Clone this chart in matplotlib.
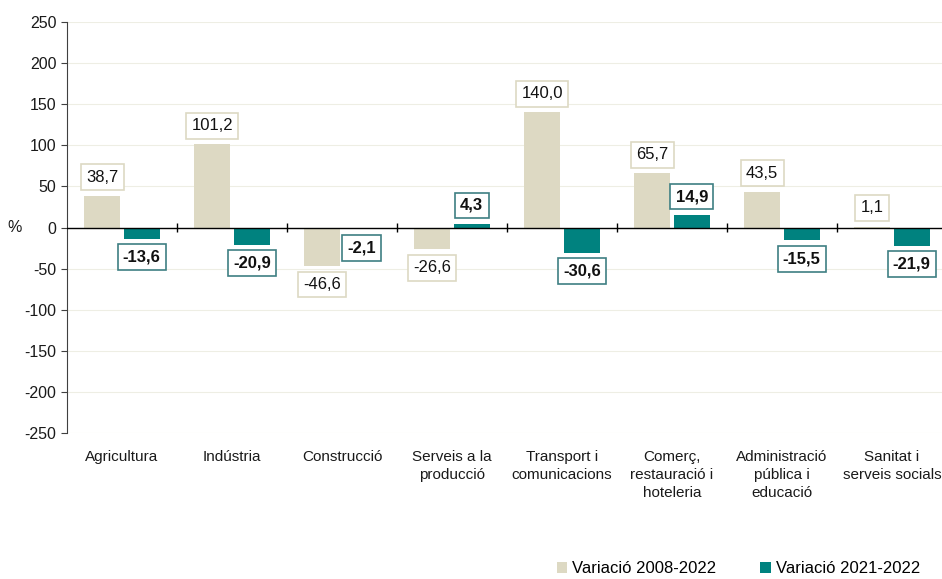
import matplotlib.pyplot as plt
import numpy as np

plt.rcParams['font.family'] = ['Liberation Sans', 'DejaVu Sans']
plt.rcParams['axes.unicode_minus'] = False

categories = ['Agricultura', 'Indústria', 'Construcció', 'Serveis a la\nproducció',
              'Transport i\ncomunicacions', 'Comerç,\nrestauració i\nhoteleria',
              'Administració\npública i\neducació', 'Sanitat i\nserveis socials']
var_2008_2022 = [38.7, 101.2, -46.6, -26.6, 140.0, 65.7, 43.5, 1.1]
var_2021_2022 = [-13.6, -20.9, -2.1, 4.3, -30.6, 14.9, -15.5, -21.9]
series_names = ['Variació 2008-2022', 'Variació 2021-2022']

beige = '#DDD9C3'
teal = '#00827F'

fig = plt.figure(figsize=(9.42, 5.79), dpi=100)
ax = fig.add_axes([67 / 942, 1 - 433 / 579, 880 / 942, 411 / 579])

x = np.arange(len(categories))
w = 0.33
off = 0.18
b1 = ax.bar(x - off, var_2008_2022, w, color=beige, label=series_names[0], zorder=3)
b2 = ax.bar(x + off, var_2021_2022, w, color=teal, label=series_names[1], zorder=3)


def fmt(v):
    return f'{v:.1f}'.replace('.', ',')


for xs, vals, ec, weight in [(x - off, var_2008_2022, beige, 'normal'),
                             (x + off, var_2021_2022, '#3E7F83', 'bold')]:
    for xi, v in zip(xs, vals):
        sign = 1 if v >= 0 else -1
        ax.annotate(fmt(v), (xi, v), xytext=(0, 8 * sign), textcoords='offset points',
                    ha='center', va='bottom' if v >= 0 else 'top',
                    fontsize=12, fontweight=weight, color='#111111', zorder=5,
                    bbox=dict(boxstyle='square,pad=0.32', fc='white', ec=ec, lw=1.2))

ax.set_ylim(-250, 250)
ax.set_xlim(-0.5, len(categories) - 0.5)
ax.set_yticks(np.arange(-250, 251, 50))
ax.set_xticks(x)
ax.set_xticklabels(categories, fontsize=11, color='#1a1a1a', linespacing=1.4)
ax.tick_params(axis='x', length=0, pad=12)
ax.tick_params(axis='y', length=4, labelsize=11.5, labelcolor='#1a1a1a', color='#404040')
ax.yaxis.grid(True, color='#EEEEE4', linestyle='-', lw=0.8, zorder=0)

for s in ['top', 'right', 'bottom']:
    ax.spines[s].set_visible(False)
ax.spines['left'].set_color('#404040')

ax.axhline(0, color='black', lw=1, zorder=4)
ax.vlines(np.arange(0.5, len(categories)), -5, 5, color='black', lw=1, zorder=4)

fig.text(15 / 942, 1 - 227 / 579, '%', fontsize=11.5, ha='center', va='center', color='#1a1a1a')

fig.legend(handles=[b1, b2], loc='center left', bbox_to_anchor=(0.575, 0.018),
           ncol=2, frameon=False, fontsize=12, handlelength=0.65, handleheight=0.65,
           handletextpad=0.3, columnspacing=2.6)

fig.savefig('out.png', dpi=100)
